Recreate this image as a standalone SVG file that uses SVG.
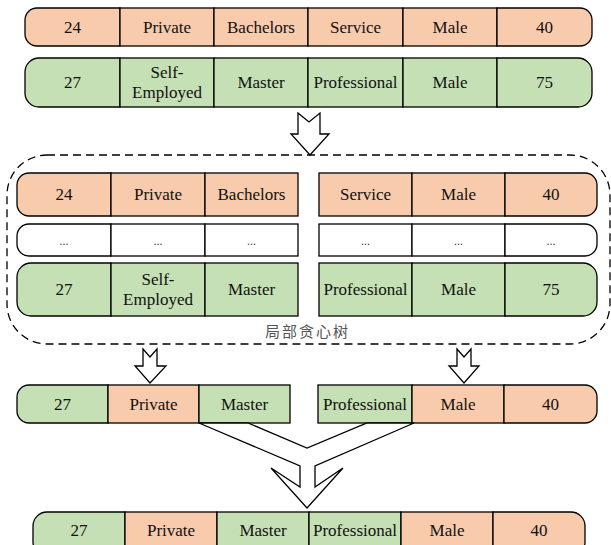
<svg xmlns="http://www.w3.org/2000/svg" width="611" height="545" viewBox="0 0 611 545">
<style>
.o{fill:#f8cbad;stroke:#000;stroke-width:1.3}
.g{fill:#c5e0b4;stroke:#000;stroke-width:1.3}
.w{fill:#fff;stroke:#000;stroke-width:1.3}
text.t{font-family:'Liberation Serif','DejaVu Serif',serif;font-size:17px;fill:#111;text-anchor:middle}
text.d{font-family:'Liberation Serif','DejaVu Serif',serif;font-size:12px;fill:#444;text-anchor:middle}
.ar{fill:#fff;stroke:#000;stroke-width:1.3;stroke-linejoin:miter}
</style>
<rect width="611" height="545" fill="#fff"/>

<g id="row1">
<path class="o" d="M120,8H37A12,12 0 0 0 25,20V34A12,12 0 0 0 37,46H120Z"/>
<rect class="o" x="120" y="8" width="94" height="38"/>
<rect class="o" x="214" y="8" width="94" height="38"/>
<rect class="o" x="308" y="8" width="95" height="38"/>
<rect class="o" x="403" y="8" width="94" height="38"/>
<path class="o" d="M497,8H580A12,12 0 0 1 592,20V34A12,12 0 0 1 580,46H497Z"/>
<text class="t" x="72.5" y="33">24</text>
<text class="t" x="167" y="33">Private</text>
<text class="t" x="261" y="33">Bachelors</text>
<text class="t" x="355.5" y="33">Service</text>
<text class="t" x="450" y="33">Male</text>
<text class="t" x="544.5" y="33">40</text>
</g>

<g id="row2">
<path class="g" d="M120,58H39A14,14 0 0 0 25,72V93A14,14 0 0 0 39,107H120Z"/>
<rect class="g" x="120" y="58" width="94" height="49"/>
<rect class="g" x="214" y="58" width="94" height="49"/>
<rect class="g" x="308" y="58" width="95" height="49"/>
<rect class="g" x="403" y="58" width="94" height="49"/>
<path class="g" d="M497,58H578A14,14 0 0 1 592,72V93A14,14 0 0 1 578,107H497Z"/>
<text class="t" x="72.5" y="88">27</text>
<text class="t" x="167" y="78">Self-</text>
<text class="t" x="167" y="98">Employed</text>
<text class="t" x="261" y="88">Master</text>
<text class="t" x="355.5" y="88">Professional</text>
<text class="t" x="450" y="88">Male</text>
<text class="t" x="544.5" y="88">75</text>
</g>

<g id="local-tree">
<rect x="7" y="155" width="603" height="189" rx="40" ry="40" fill="none" stroke="#000" stroke-width="1.3" stroke-dasharray="8,5"/>
<text x="265" y="337" font-family="'Noto Sans CJK SC',sans-serif" font-size="15" letter-spacing="2" fill="#555">局部贪心树</text>
</g>

<g id="left-a">
<path class="o" d="M111,173H29A12,12 0 0 0 17,185V204A12,12 0 0 0 29,216H111Z"/>
<rect class="o" x="111" y="173" width="94" height="43"/>
<rect class="o" x="205" y="173" width="93" height="43"/>
<text class="t" x="64" y="200">24</text>
<text class="t" x="158" y="200">Private</text>
<text class="t" x="251.5" y="200">Bachelors</text>
</g>
<g id="left-b">
<path class="w" d="M111,224H29A12,12 0 0 0 17,236V244A12,12 0 0 0 29,256H111Z"/>
<rect class="w" x="111" y="224" width="94" height="32"/>
<rect class="w" x="205" y="224" width="93" height="32"/>
<text class="d" x="64" y="245">...</text>
<text class="d" x="158" y="245">...</text>
<text class="d" x="251.5" y="245">...</text>
</g>
<g id="left-c">
<path class="g" d="M111,263H31A14,14 0 0 0 17,277V302A14,14 0 0 0 31,316H111Z"/>
<rect class="g" x="111" y="263" width="94" height="53"/>
<rect class="g" x="205" y="263" width="93" height="53"/>
<text class="t" x="64" y="295">27</text>
<text class="t" x="158" y="285">Self-</text>
<text class="t" x="158" y="305">Employed</text>
<text class="t" x="251.5" y="295">Master</text>
</g>

<g id="right-a">
<rect class="o" x="319" y="173" width="93" height="43"/>
<rect class="o" x="412" y="173" width="93" height="43"/>
<path class="o" d="M505,173H585A12,12 0 0 1 597,185V204A12,12 0 0 1 585,216H505Z"/>
<text class="t" x="365.5" y="200">Service</text>
<text class="t" x="458.5" y="200">Male</text>
<text class="t" x="551" y="200">40</text>
</g>
<g id="right-b">
<rect class="w" x="319" y="224" width="93" height="32"/>
<rect class="w" x="412" y="224" width="93" height="32"/>
<path class="w" d="M505,224H585A12,12 0 0 1 597,236V244A12,12 0 0 1 585,256H505Z"/>
<text class="d" x="365.5" y="245">...</text>
<text class="d" x="458.5" y="245">...</text>
<text class="d" x="551" y="245">...</text>
</g>
<g id="right-c">
<rect class="g" x="319" y="263" width="93" height="53"/>
<rect class="g" x="412" y="263" width="93" height="53"/>
<path class="g" d="M505,263H583A14,14 0 0 1 597,277V302A14,14 0 0 1 583,316H505Z"/>
<text class="t" x="365.5" y="295">Professional</text>
<text class="t" x="458.5" y="295">Male</text>
<text class="t" x="551" y="295">75</text>
</g>

<g id="row4-left">
<path class="g" d="M108,385H29A12,12 0 0 0 17,397V411A12,12 0 0 0 29,423H108Z"/>
<rect class="o" x="108" y="385" width="91" height="38"/>
<rect class="g" x="199" y="385" width="91" height="38"/>
<text class="t" x="62.5" y="410">27</text>
<text class="t" x="153.5" y="410">Private</text>
<text class="t" x="244.5" y="410">Master</text>
</g>
<g id="row4-right">
<rect class="g" x="318" y="385" width="94" height="38"/>
<rect class="o" x="412" y="385" width="92" height="38"/>
<path class="o" d="M504,385H585A12,12 0 0 1 597,397V411A12,12 0 0 1 585,423H504Z"/>
<text class="t" x="365" y="410">Professional</text>
<text class="t" x="458" y="410">Male</text>
<text class="t" x="550.5" y="410">40</text>
</g>

<g id="row5">
<path class="g" d="M125,512H47A14,14 0 0 0 33,526V542A14,14 0 0 0 47,556H125Z"/>
<rect class="o" x="125" y="512" width="92" height="44"/>
<rect class="g" x="217" y="512" width="92" height="44"/>
<rect class="g" x="309" y="512" width="92" height="44"/>
<rect class="o" x="401" y="512" width="92" height="44"/>
<path class="o" d="M493,512H571A14,14 0 0 1 585,526V542A14,14 0 0 1 571,556H493Z"/>
<text class="t" x="79" y="536">27</text>
<text class="t" x="171" y="536">Private</text>
<text class="t" x="263" y="536">Master</text>
<text class="t" x="355" y="536">Professional</text>
<text class="t" x="447" y="536">Male</text>
<text class="t" x="539" y="536">40</text>
</g>

<g id="connectors">
<polygon class="ar" points="298,113 309,122 320,113 320,134 329,134 310,155 291,134 298,134"/>
<polygon class="ar" points="143,349 150,357 157,349 157,366 166,366 150,383 135,366 143,366"/>
<polygon class="ar" points="457,349 464,357 471,349 471,366 479,366 464,383 449,366 457,366"/>
<polygon class="ar" points="199,423 300,466 300,487 271,468 307,508 343,468 315,487 315,466 414,423 367,423 307,448 248,423"/>
</g>
</svg>
